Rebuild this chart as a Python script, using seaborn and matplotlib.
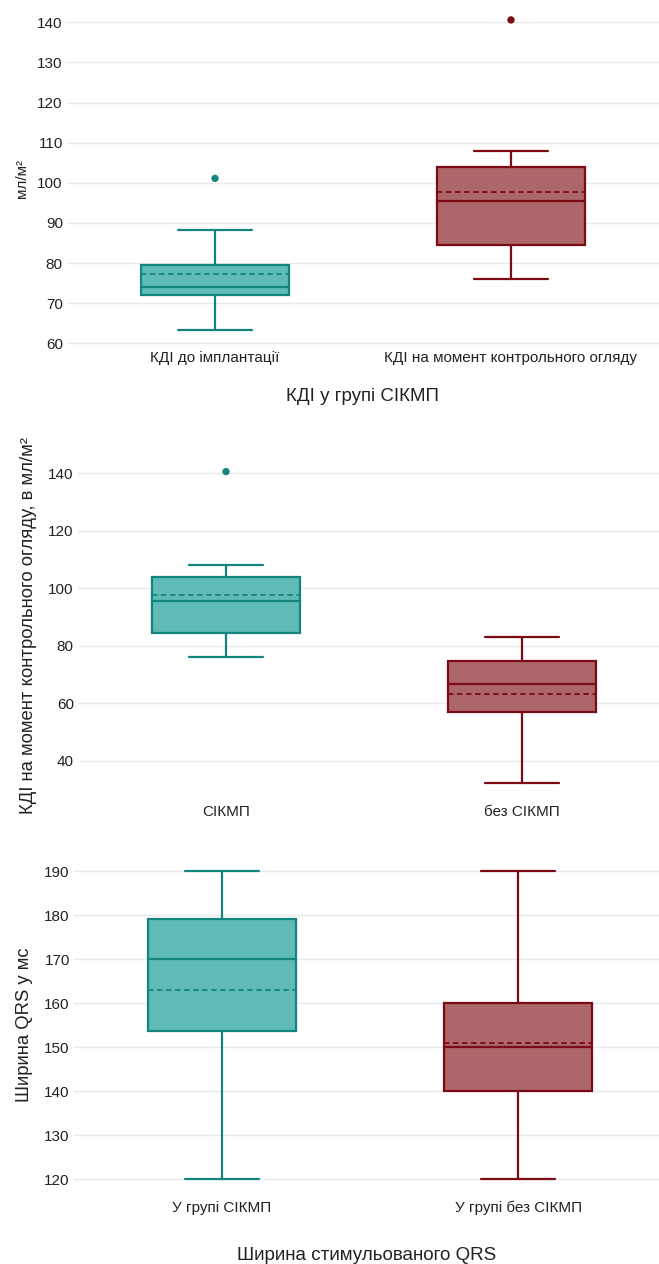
import matplotlib
matplotlib.use("Agg")
import matplotlib.pyplot as plt
import pandas as pd
import seaborn as sns

# panel 1: КДІ у групі СІКМП
cats_1 = ["КДІ до імплантації", "КДІ на момент контрольного огляду"]
whislo_1 = [63.4, 76.1]
q1_1 = [72.0, 84.5]
med_1 = [74.0, 95.4]
q3_1 = [79.4, 104.0]
whishi_1 = [88.2, 108.0]
mean_1 = [77.3, 97.7]
outliers_1 = [[101.1], [140.6]]

# panel 2: КДІ на момент контрольного огляду
cats_2 = ["СІКМП", "без СІКМП"]
whislo_2 = [76.1, 32.1]
q1_2 = [84.5, 56.9]
med_2 = [95.4, 66.6]
q3_2 = [104.0, 74.8]
whishi_2 = [108.0, 82.9]
mean_2 = [97.7, 63.2]
outliers_2 = [[140.6], []]

# panel 3: ширина стимульованого QRS
cats_3 = ["У групі СІКМП", "У групі без СІКМП"]
whislo_3 = [120.0, 120.0]
q1_3 = [153.7, 140.0]
med_3 = [170.0, 150.0]
q3_3 = [179.0, 160.0]
whishi_3 = [190.0, 190.0]
mean_3 = [163.0, 150.9]
outliers_3 = [[], []]

fill_colors = ["#5fbbb5", "#ad676a"]
edge_colors = ["#14857e", "#7b0a14"]

W, H = 659, 1264

sns.set_theme(style="whitegrid", rc={
    "grid.color": "#e7e9ec",
    "grid.linewidth": 1.0,
    "axes.edgecolor": "white",
    "text.color": "#222222",
    "axes.labelcolor": "#222222",
    "xtick.color": "#222222",
    "ytick.color": "#222222",
})
plt.rcParams["font.family"] = ["Liberation Sans", "DejaVu Sans"]

fig = plt.figure(figsize=(W / 100, H / 100), dpi=100)


def px_axes(left, top, right, bottom):
    return fig.add_axes([left / W, 1 - bottom / H, (right - left) / W, (bottom - top) / H])


def draw_panel(ax, cats, whislo, q1, med, q3, whishi, mean, outliers, xlim, ylim, yticks):
    stats = []
    for i in range(len(cats)):
        stats.append({
            "label": cats[i], "whislo": whislo[i], "q1": q1[i], "med": med[i],
            "q3": q3[i], "whishi": whishi[i], "mean": mean[i], "fliers": [],
        })
    parts = ax.bxp(stats, positions=range(len(cats)), widths=0.5, patch_artist=True,
                   showmeans=True, meanline=True, showfliers=False)
    for i in range(len(cats)):
        box = parts["boxes"][i]
        box.set_facecolor(fill_colors[i])
        box.set_edgecolor(edge_colors[i])
        box.set_linewidth(1.6)
        parts["medians"][i].set(color=edge_colors[i], linewidth=1.6)
        parts["means"][i].set(color=edge_colors[i], linewidth=1.3, linestyle=(0, (3, 2)))
        for line in parts["whiskers"][2 * i:2 * i + 2] + parts["caps"][2 * i:2 * i + 2]:
            line.set(color=edge_colors[i], linewidth=1.6)

    rows = [(i, v, cats[i]) for i in range(len(cats)) for v in outliers[i]]
    if rows:
        df = pd.DataFrame(rows, columns=["pos", "value", "group"])
        sns.scatterplot(data=df, x="pos", y="value", hue="group", hue_order=cats,
                        palette=edge_colors, s=28, edgecolor="none", legend=False, ax=ax)

    ax.set_xlim(*xlim)
    ax.set_ylim(*ylim)
    ax.set_yticks(yticks)
    ax.set_xticks(range(len(cats)))
    ax.set_xticklabels(cats)
    ax.grid(axis="x", visible=False)
    ax.tick_params(axis="both", length=0, labelsize=11)
    ax.tick_params(axis="y", pad=3)
    ax.tick_params(axis="x", pad=3)
    for s in ax.spines.values():
        s.set_visible(False)
    ax.set_xlabel("")
    ax.set_ylabel("")


ax1 = px_axes(67, 10.3, 659, 347.3)
draw_panel(ax1, cats_1, whislo_1, q1_1, med_1, q3_1, whishi_1, mean_1, outliers_1,
           (-0.5, 1.5), (59, 143), range(60, 141, 10))
ax1.set_ylabel("мл/м²", fontsize=11, labelpad=6)
ax1.set_xlabel("КДІ у групі СІКМП", fontsize=13.5, labelpad=16)

ax2 = px_axes(78, 450.3, 659, 800.9)
draw_panel(ax2, cats_2, whislo_2, q1_2, med_2, q3_2, whishi_2, mean_2, outliers_2,
           (-0.5, 1.463), (26, 148), range(40, 141, 20))
ax2.set_ylabel("КДІ на момент контрольного огляду, в мл/м²", fontsize=13.3, labelpad=8)

ax3 = px_axes(74, 853.4, 659, 1196.9)
draw_panel(ax3, cats_3, whislo_3, q1_3, med_3, q3_3, whishi_3, mean_3, outliers_3,
           (-0.5, 1.476), (116, 194), range(120, 191, 10))
ax3.set_ylabel("Ширина QRS у мс", fontsize=13.3, labelpad=8)
ax3.set_xlabel("Ширина стимульованого QRS", fontsize=13.5, labelpad=23)

fig.savefig("out.png", dpi=100)
